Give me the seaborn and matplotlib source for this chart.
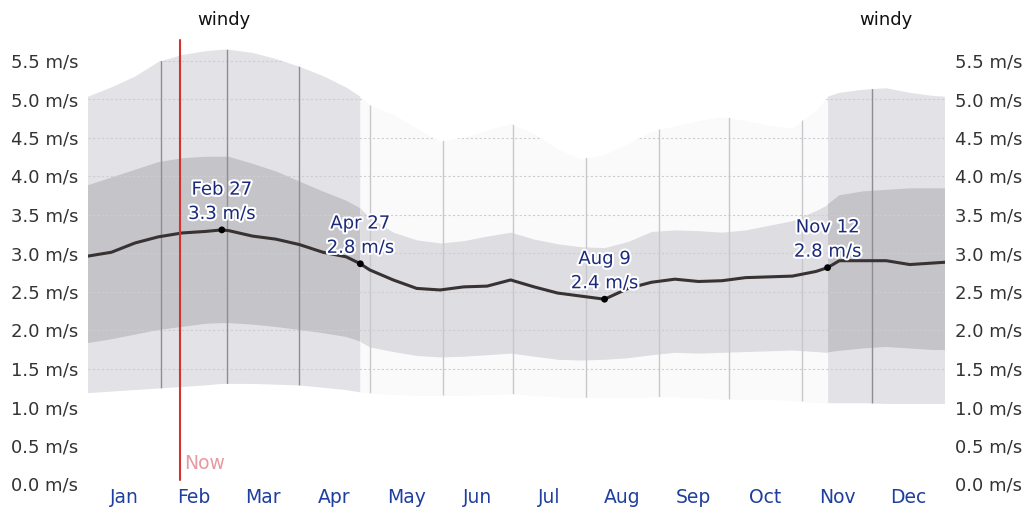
import matplotlib
matplotlib.use("Agg")
import matplotlib.pyplot as plt
import matplotlib.patheffects as pe
import seaborn as sns
import numpy as np
import pandas as pd

# day of year (Jan 1 = 0) and wind speed percentiles in m/s
days = [0, 10, 20, 30, 40, 50, 57, 60, 70, 80, 90, 100, 110, 116, 120, 130, 140, 150, 160, 170,
        180, 190, 200, 210, 220, 230, 240, 250, 260, 270, 280, 290, 300, 310, 315, 320, 330, 340,
        350, 360, 365]
mean_speed = [2.96, 3.01, 3.13, 3.21, 3.26, 3.28, 3.30, 3.29, 3.22, 3.18, 3.11, 3.01, 2.95, 2.86,
              2.78, 2.65, 2.54, 2.52, 2.56, 2.57, 2.65, 2.56, 2.48, 2.44, 2.40, 2.54, 2.62, 2.66,
              2.63, 2.64, 2.68, 2.69, 2.70, 2.76, 2.81, 2.90, 2.90, 2.90, 2.85, 2.87, 2.88]
p90 = [5.03, 5.15, 5.29, 5.48, 5.57, 5.62, 5.64, 5.64, 5.60, 5.52, 5.42, 5.30, 5.15, 5.03, 4.92,
       4.80, 4.62, 4.45, 4.50, 4.60, 4.68, 4.55, 4.35, 4.22, 4.28, 4.42, 4.58, 4.65, 4.72, 4.77,
       4.72, 4.66, 4.62, 4.85, 5.03, 5.08, 5.12, 5.14, 5.08, 5.04, 5.03]
p75 = [3.88, 3.98, 4.08, 4.18, 4.23, 4.25, 4.25, 4.25, 4.16, 4.06, 3.93, 3.80, 3.68, 3.58, 3.46,
       3.27, 3.17, 3.13, 3.16, 3.22, 3.27, 3.18, 3.12, 3.08, 3.07, 3.15, 3.28, 3.30, 3.29, 3.27,
       3.30, 3.36, 3.42, 3.55, 3.63, 3.75, 3.80, 3.82, 3.84, 3.84, 3.84]
p25 = [1.83, 1.88, 1.94, 2.00, 2.04, 2.08, 2.09, 2.09, 2.07, 2.04, 2.00, 1.96, 1.91, 1.85, 1.78,
       1.72, 1.67, 1.65, 1.66, 1.68, 1.70, 1.66, 1.62, 1.61, 1.62, 1.64, 1.68, 1.71, 1.70, 1.71,
       1.72, 1.73, 1.74, 1.72, 1.71, 1.73, 1.76, 1.78, 1.76, 1.74, 1.74]
p10 = [1.18, 1.20, 1.22, 1.24, 1.26, 1.28, 1.30, 1.30, 1.30, 1.29, 1.28, 1.25, 1.22, 1.19, 1.18,
       1.16, 1.15, 1.15, 1.15, 1.16, 1.17, 1.15, 1.13, 1.12, 1.12, 1.12, 1.13, 1.13, 1.12, 1.10,
       1.10, 1.10, 1.08, 1.06, 1.05, 1.05, 1.05, 1.04, 1.04, 1.04, 1.04]

windy_end = 116     # Apr 27
windy_start = 315   # Nov 12
now_day = 39

month_names = ["Jan", "Feb", "Mar", "Apr", "May", "Jun", "Jul", "Aug", "Sep", "Oct", "Nov", "Dec"]
month_starts = [0, 31, 59, 90, 120, 151, 181, 212, 243, 273, 304, 334, 365]

mark_days = [57, 116, 220, 315]
mark_dates = ["Feb 27", "Apr 27", "Aug 9", "Nov 12"]
mark_vals = [3.3, 2.8, 2.4, 2.8]

ytick_vals = [0.0, 0.5, 1.0, 1.5, 2.0, 2.5, 3.0, 3.5, 4.0, 4.5, 5.0, 5.5]

df = pd.DataFrame({"day": days, "mean": mean_speed, "p10": p10, "p25": p25, "p75": p75, "p90": p90})

sns.set_style("white")
plt.rcParams["font.family"] = ["DejaVu Sans"]

fig = plt.figure(figsize=(10.26, 5.13), dpi=100)
ax = fig.add_axes([88 / 1026, 29 / 513, 857 / 1026, 444 / 513])
y_top = 444 / 77

d = df["day"].values
windy = (d <= windy_end) | (d >= windy_start)
calm = (d >= windy_end) & (d <= windy_start)

# outer (10-90) and inner (25-75) bands
ax.fill_between(d, df["p10"], df["p90"], where=windy, color="#e3e3e7", lw=0, zorder=1)
ax.fill_between(d, df["p10"], df["p90"], where=calm, color="#fafafb", lw=0, zorder=1)
ax.fill_between(d, df["p25"], df["p75"], where=windy, color="#c4c4c9", lw=0, zorder=2)
ax.fill_between(d, df["p25"], df["p75"], where=calm, color="#dddde2", lw=0, zorder=2)

clip = ax.fill_between(d, df["p10"], df["p90"], facecolor="none", lw=0)
clip_path = clip.get_paths()[0]

# grid only inside the bands
for v in ytick_vals[1:]:
    ln = ax.axhline(v, color="#cdcdd2", lw=0.8, ls=(0, (2, 2)), zorder=3)
    ln.set_clip_path(clip_path, ax.transData)
for m in month_starts[1:-1]:
    in_windy = m < windy_end or m > windy_start
    ln = ax.axvline(m, color="#8e8e92" if in_windy else "#c8c8cc", lw=1, zorder=3)
    ln.set_clip_path(clip_path, ax.transData)

sns.lineplot(data=df, x="day", y="mean", ax=ax, color="#383232", lw=2.2, zorder=5)

mark_y = [df.loc[df["day"] == md, "mean"].iloc[0] for md in mark_days]
sns.scatterplot(x=mark_days, y=mark_y, ax=ax, color="black", s=24, edgecolor="none", zorder=6)
for md, my, lab, v in zip(mark_days, mark_y, mark_dates, mark_vals):
    ax.annotate(f"{lab}\n{v} m/s", (md, my), xytext=(0, 5), textcoords="offset points",
                ha="center", va="bottom", fontsize=13, color="#1c2a7a", linespacing=1.45,
                zorder=7, path_effects=[pe.withStroke(linewidth=3, foreground="white")])

# now line
ax.plot([now_day, now_day], [0.05, y_top], color="#d6302f", lw=1.5, clip_on=False, zorder=8)
ax.text(now_day + 2, 0.27, "Now", color="#e59aa4", fontsize=13.5, va="center", ha="left")

# windy labels
ax.text(windy_end / 2, 6.03, "windy", ha="center", va="center", fontsize=13, color="#111111")
ax.text((windy_start + 365) / 2, 6.03, "windy", ha="center", va="center", fontsize=13,
        color="#111111")

ax.set_xlim(0, 365)
ax.set_ylim(0, y_top)
mids = [(a + b) / 2 for a, b in zip(month_starts[:-1], month_starts[1:])]
ax.set_xticks(mids)
ax.set_xticklabels(month_names, color="#1f3f9e", fontsize=13.5)
ax.set_yticks(ytick_vals)
ax.set_yticklabels([f"{v:.1f} m/s" for v in ytick_vals], color="#333333", fontsize=13)
ax.tick_params(axis="x", length=0, pad=3)
ax.tick_params(axis="y", length=0, pad=7, labelright=True)
ax.set_xlabel("")
ax.set_ylabel("")
for s in ax.spines.values():
    s.set_visible(False)

fig.savefig("out.png", dpi=100)
